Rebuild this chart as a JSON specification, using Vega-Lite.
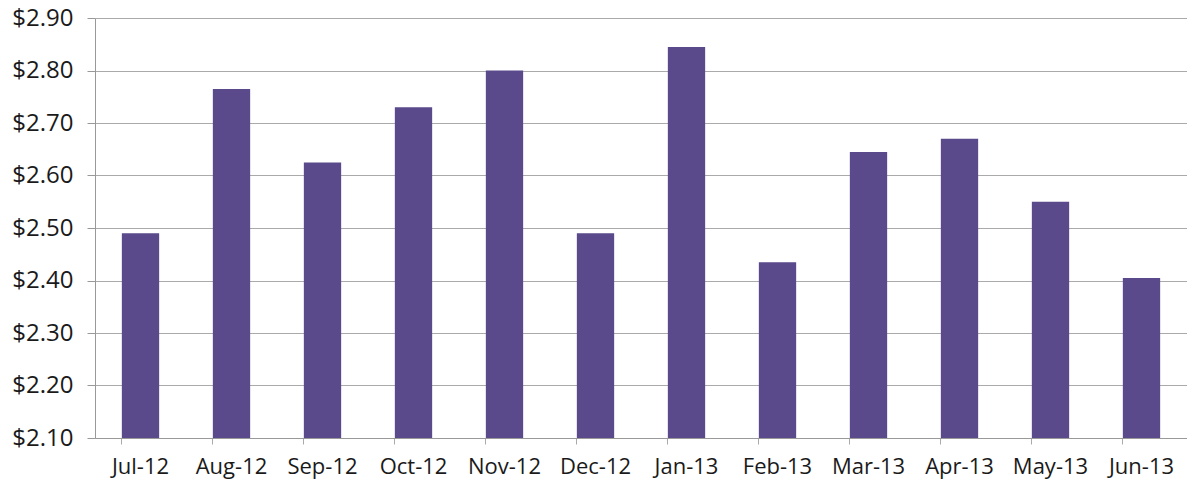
{
  "$schema": "https://vega.github.io/schema/vega-lite/v6.json",
  "width": 1092,
  "height": 420,
  "autosize": {"type": "none"},
  "padding": {"left": 95, "top": 18, "right": 0, "bottom": 51},
  "background": "white",
  "data": {
    "values": [
      {"month": "Jul-12", "price": 2.49},
      {"month": "Aug-12", "price": 2.765},
      {"month": "Sep-12", "price": 2.625},
      {"month": "Oct-12", "price": 2.73},
      {"month": "Nov-12", "price": 2.80},
      {"month": "Dec-12", "price": 2.49},
      {"month": "Jan-13", "price": 2.845},
      {"month": "Feb-13", "price": 2.435},
      {"month": "Mar-13", "price": 2.645},
      {"month": "Apr-13", "price": 2.67},
      {"month": "May-13", "price": 2.55},
      {"month": "Jun-13", "price": 2.405}
    ]
  },
  "config": {
    "view": {"stroke": null},
    "font": "Open Sans"
  },
  "mark": {"type": "bar", "color": "#5a4a8c", "clip": true},
  "encoding": {
    "x": {
      "field": "month",
      "type": "nominal",
      "sort": null,
      "scale": {"paddingInner": 0.59, "paddingOuter": 0.295},
      "axis": {
        "title": null,
        "labelAngle": 0,
        "labelFontSize": 22,
        "labelColor": "#1a1a1a",
        "labelPadding": 12,
        "bandPosition": 0,
        "tickSize": 6,
        "tickColor": "#aaaaaa",
        "domainColor": "#999999",
        "grid": false
      }
    },
    "y": {
      "field": "price",
      "type": "quantitative",
      "scale": {"domain": [2.1, 2.9], "zero": false, "nice": false},
      "axis": {
        "title": null,
        "values": [2.1, 2.2, 2.3, 2.4, 2.5, 2.6, 2.7, 2.8, 2.9],
        "format": "$.2f",
        "labelFontSize": 24,
        "labelColor": "#1a1a1a",
        "labelPadding": 14,
        "tickSize": 8,
        "tickColor": "#999999",
        "domainColor": "#999999",
        "grid": true,
        "gridColor": "#aaaaaa",
        "gridWidth": 1
      }
    }
  }
}
